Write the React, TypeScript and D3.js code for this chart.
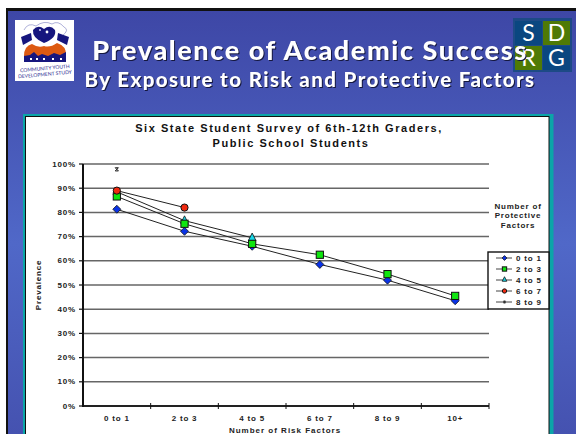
import React from "react";
import * as d3 from "d3";

const categories = ["0 to 1", "2 to 3", "4 to 5", "6 to 7", "8 to 9", "10+"];
const yTicks = [0, 10, 20, 30, 40, 50, 60, 70, 80, 90, 100];
const protective01 = [81.3, 72.2, 66, 58.5, 52, 43.5];
const protective23 = [86.6, 75.3, 67, 62.5, 54.5, 45.5];
const protective45 = [88.5, 76.6, 69.5];
const protective67 = [89, 82];
const protective89 = [97.8];
const seriesNames = ["0 to 1", "2 to 3", "4 to 5", "6 to 7", "8 to 9"];

const x = d3.scaleBand<string>().domain(categories).range([83, 489]);
const y = d3.scaleLinear().domain([0, 100]).range([406, 164]);
const cx = (i: number) => (x(categories[i]) as number) + x.bandwidth() / 2;
const pathOf = d3
  .line<number>()
  .x((_, i) => cx(i))
  .y((v) => y(v));

type Kind = "diamond" | "square" | "triangle" | "circle" | "star";

function Marker({ kind, px, py, s = 1 }: { kind: Kind; px: number; py: number; s?: number }) {
  const stroke = "#111";
  if (kind === "diamond") {
    const r = 4 * s;
    return <path d={`M${px} ${py - r}L${px + r} ${py}L${px} ${py + r}L${px - r} ${py}Z`} fill="#0a32e6" stroke={stroke} strokeWidth={0.8} />;
  }
  if (kind === "square") {
    const r = 3.6 * s;
    return <rect x={px - r} y={py - r} width={2 * r} height={2 * r} fill="#0fe60f" stroke={stroke} strokeWidth={1} />;
  }
  if (kind === "triangle") {
    const r = 3.8 * s;
    return <path d={`M${px} ${py - r - 1}L${px + r} ${py + r - 1}L${px - r} ${py + r - 1}Z`} fill="#19d8e8" stroke={stroke} strokeWidth={0.8} />;
  }
  if (kind === "circle") {
    return <circle cx={px} cy={py} r={3.6 * s} fill="#f02a10" stroke={stroke} strokeWidth={1} />;
  }
  const r = 1.6 * s;
  return (
    <path
      d={`M${px - r} ${py - r}L${px + r} ${py + r}M${px + r} ${py - r}L${px - r} ${py + r}M${px - r} ${py - r}H${px + r}M${px - r} ${py + r}H${px + r}`}
      stroke="#222"
      strokeWidth={1}
    />
  );
}

// Paint order keeps squares over triangles and circles over both.
const drawn: { name: string; values: number[]; kind: Kind }[] = [
  { name: seriesNames[0], values: protective01, kind: "diamond" },
  { name: seriesNames[2], values: protective45, kind: "triangle" },
  { name: seriesNames[1], values: protective23, kind: "square" },
  { name: seriesNames[3], values: protective67, kind: "circle" },
  { name: seriesNames[4], values: protective89, kind: "star" },
];
const legendKinds: Kind[] = ["diamond", "square", "triangle", "circle", "star"];

const chartFont = "'Liberation Sans', Arial, sans-serif";
const titleFont = "Lato, 'Open Sans', sans-serif";

function ShadowText({ tx, ty, size, spacing, children }: { tx: number; ty: number; size: number; spacing: number; children: string }) {
  return (
    <text
      x={tx}
      y={ty}
      textAnchor="middle"
      fontFamily={titleFont}
      fontWeight={900}
      fontSize={size}
      letterSpacing={spacing}
      fill="#fff"
      style={{ filter: "drop-shadow(1.8px 1.8px 0 #15183f)" }}
    >
      {children}
    </text>
  );
}

function CommunityLogo() {
  return (
    <g>
      <rect x={15} y={20} width={59} height={61} fill="#fff" />
      <path d="M24 30 Q28 22 36 26 Q44 20 52 24 Q58 20 64 27 Q70 30 62 36" fill="none" stroke="#8d8fc8" strokeWidth={0.7} />
      <path d="M33 30 Q38 24 44 29 Q50 24 55 30 Q57 38 44 43 Q32 38 33 30Z" fill="#16167e" />
      <circle cx={47} cy={32} r={1.4} fill="#fff" />
      <circle cx={40} cy={30} r={1} fill="#cfd0f0" />
      <path d="M21 37 L31 33 L32 40 L23 45Z" fill="#16167e" />
      <path d="M58 33 L69 37 L67 45 L57 40Z" fill="#16167e" />
      <path d="M24 56 Q24 46 32 44 Q38 48 44 46 Q50 48 57 43 Q67 46 66 56Z" fill="#dd5a12" />
      <path d="M24 62 V56 L30 55 L34 52 L38 56 L42 54 L48 56 L54 53 L60 55 L66 52 V62Z" fill="#16167e" />
      <path d="M30 58h2v2h-2zM36 58h2v2h-2zM43 58h2v2h-2zM52 58h2v2h-2zM60 58h2v2h-2z" fill="#fff" />
      <text x={45} y={70} textAnchor="middle" fontFamily={titleFont} fontSize={5} fill="#2a2a90" transform="rotate(-5 45 70)">COMMUNITY YOUTH</text>
      <text x={45} y={76} textAnchor="middle" fontFamily={titleFont} fontSize={5} fill="#2a2a90" transform="rotate(-5 45 76)">DEVELOPMENT STUDY</text>
    </g>
  );
}

function SdrgLogo() {
  const cells = [
    { l: "S", left: 515, top: 21, fill: "#0a4780" },
    { l: "D", left: 543, top: 21, fill: "#4f7a05" },
    { l: "R", left: 515, top: 46, fill: "#4f7a05" },
    { l: "G", left: 543, top: 46, fill: "#0a4780" },
  ];
  return (
    <g>
      <rect x={513} y={18} width={59} height={54} fill="#1d4a86" />
      {cells.map((c) => (
        <g key={c.l}>
          <rect x={c.left} y={c.top} width={27} height={24} fill={c.fill} />
          <text x={c.left + 13.5} y={c.top + 20} textAnchor="middle" fontFamily={titleFont} fontSize={23} fill="#fff">{c.l}</text>
        </g>
      ))}
    </g>
  );
}

export default function App() {
  return (
    <svg
      width={576}
      height={434}
      viewBox="0 0 576 434"
      style={{ position: "fixed", left: 0, top: 0, display: "block" }}
    >
      <defs>
        <linearGradient id="slideBg" x1="0" y1="0" x2="0" y2="1">
          <stop offset="0" stopColor="#3e47a6" />
          <stop offset="0.55" stopColor="#5068c8" />
          <stop offset="1" stopColor="#4552b0" />
        </linearGradient>
      </defs>
      <rect width={576} height={434} fill="#fff" />
      <rect x={6} y={8} width={570} height={426} fill="#111" />
      <rect x={8} y={11} width={568} height={423} fill="url(#slideBg)" />

      <rect x={23} y={114} width={530.5} height={320} fill="#0ba5a8" />
      <rect x={25.5} y={116.5} width={523.5} height={318} fill="#fff" stroke="#111" strokeWidth={1} />

      <CommunityLogo />
      <SdrgLogo />
      <ShadowText tx={310} ty={60} size={27} spacing={1.6}>{"Prevalence of Academic Success"}</ShadowText>
      <ShadowText tx={310} ty={87} size={20.5} spacing={1.4}>{"By Exposure to Risk and Protective Factors"}</ShadowText>

      <g fontFamily={chartFont} fontWeight={700} fill="#111">
        <text x={289} y={132} textAnchor="middle" fontSize={11} letterSpacing={1.55}>Six State Student Survey of 6th-12th Graders,</text>
        <text x={291} y={147} textAnchor="middle" fontSize={11} letterSpacing={1.55}>Public School Students</text>
      </g>

      {/* Horizontal grid and value axis */}
      {yTicks.map((t) => (
        <g key={t}>
          <line x1={83} x2={489} y1={y(t)} y2={y(t)} stroke={t === 0 ? "#222" : "#666"} strokeWidth={t === 0 ? 2 : 1.5} />
          <line x1={79} x2={83} y1={y(t)} y2={y(t)} stroke="#111" strokeWidth={1.2} />
          <text x={76} y={y(t) + 2.5} textAnchor="end" fontFamily={chartFont} fontWeight={700} fontSize={8} letterSpacing={0.8} fill="#222">
            {t}%
          </text>
        </g>
      ))}
      <line x1={83} x2={83} y1={y(100)} y2={y(0) + 1} stroke="#111" strokeWidth={2} />

      {/* Category axis */}
      {categories.map((c, i) => (
        <g key={c}>
          <line x1={(x(c) as number) + x.bandwidth()} x2={(x(c) as number) + x.bandwidth()} y1={y(0) - 3} y2={y(0) + 3} stroke="#111" strokeWidth={1} />
          <text x={cx(i)} y={y(0) + 15} textAnchor="middle" fontFamily={chartFont} fontWeight={700} fontSize={8} letterSpacing={0.8} fill="#222">
            {c}
          </text>
        </g>
      ))}
      <text x={285} y={433} textAnchor="middle" fontFamily={chartFont} fontWeight={700} fontSize={8} letterSpacing={1} fill="#222">
        Number of Risk Factors
      </text>
      <text transform="translate(41 285) rotate(-90)" textAnchor="middle" fontFamily={chartFont} fontWeight={700} fontSize={8} letterSpacing={0.8} fill="#222">
        Prevalence
      </text>

      {/* Series lines, then markers */}
      {drawn.map((s) => (
        <path key={s.name} d={pathOf(s.values) ?? ""} fill="none" stroke="#222" strokeWidth={1} />
      ))}
      {drawn.map((s) =>
        s.values.map((v, i) => <Marker key={`${s.name}-${i}`} kind={s.kind} px={cx(i)} py={y(v)} />)
      )}

      {/* Legend */}
      <g fontFamily={chartFont} fontWeight={700} fontSize={8} letterSpacing={0.8} fill="#222" textAnchor="middle">
        <text x={518} y={209}>Number of</text>
        <text x={518} y={218}>Protective</text>
        <text x={518} y={228}>Factors</text>
      </g>
      <rect x={488} y={252} width={61} height={57} fill="#fff" stroke="#111" strokeWidth={1.4} />
      {seriesNames.map((n, i) => {
        const ly = 258 + i * 11;
        return (
          <g key={n}>
            <line x1={496} x2={512} y1={ly} y2={ly} stroke="#444" strokeWidth={1} />
            <Marker kind={legendKinds[i]} px={504.5} py={ly} s={0.6} />
            <text x={516} y={ly + 3} fontFamily={chartFont} fontWeight={700} fontSize={8} letterSpacing={0.8} fill="#222">{n}</text>
          </g>
        );
      })}
    </svg>
  );
}
